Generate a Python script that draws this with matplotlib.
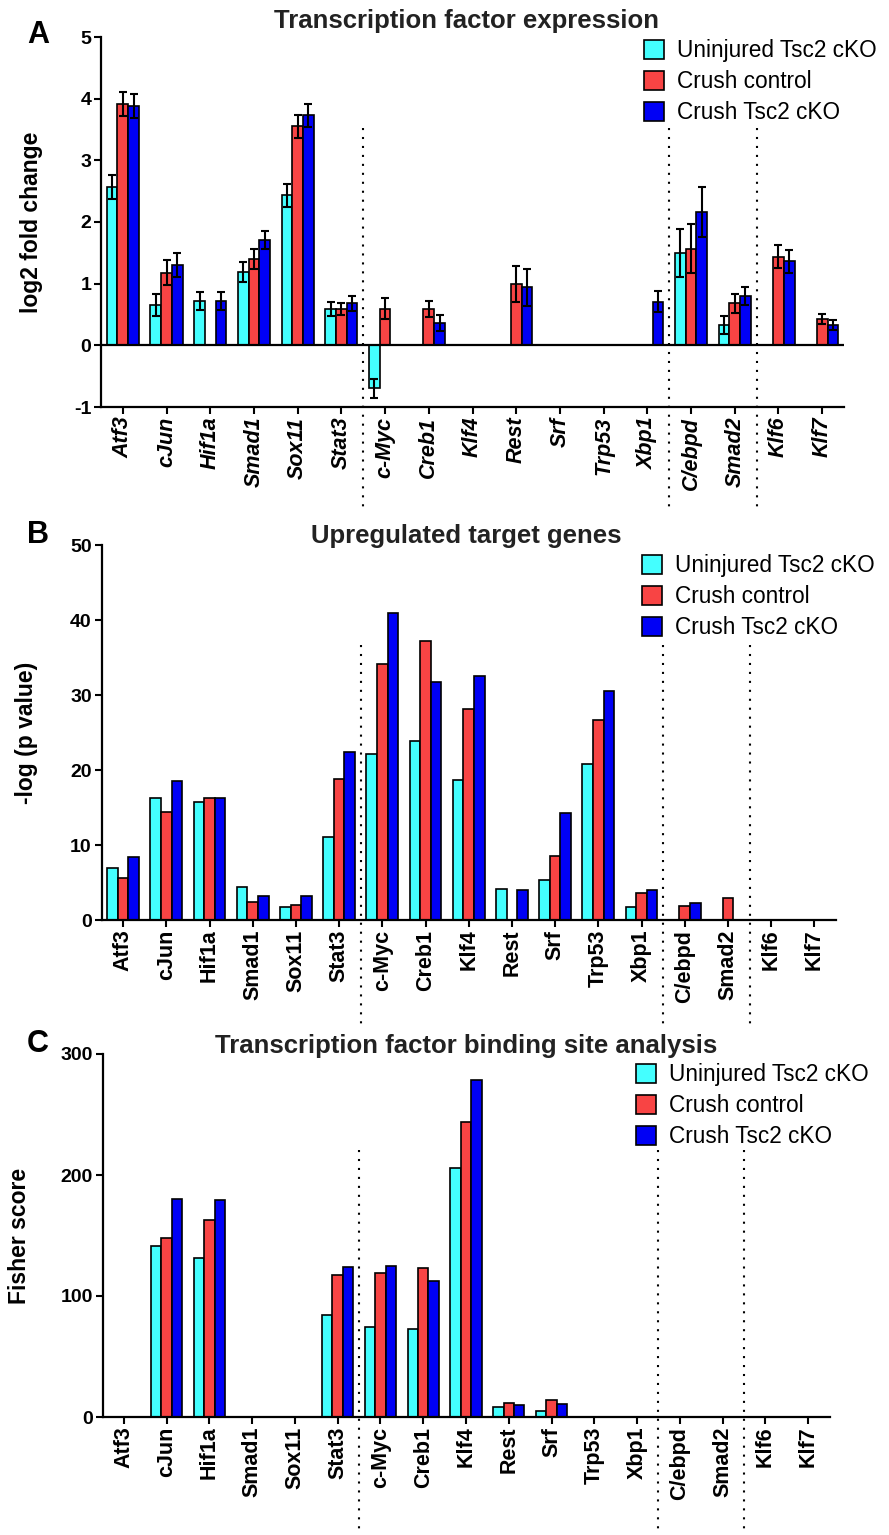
import numpy as np
import matplotlib
matplotlib.use('Agg')
import matplotlib.pyplot as plt
from matplotlib.transforms import blended_transform_factory
from matplotlib.patches import Patch

plt.rcParams['font.family'] = ['Liberation Sans', 'DejaVu Sans']
plt.rcParams['axes.unicode_minus'] = False

nan = np.nan
genes = ['Atf3', 'cJun', 'Hif1a', 'Smad1', 'Sox11', 'Stat3', 'c-Myc', 'Creb1', 'Klf4',
         'Rest', 'Srf', 'Trp53', 'Xbp1', 'C/ebpd', 'Smad2', 'Klf6', 'Klf7']
series = ['Uninjured Tsc2 cKO', 'Crush control', 'Crush Tsc2 cKO']
colors = ['#44FFFF', '#F84444', '#0000F5']
group_breaks = [5.5, 12.5, 14.5]

# Panel A: log2 fold change (mean, error)
fc_uninjured = [2.57, 0.65, 0.72, 1.19, 2.43, 0.59, -0.70, nan, nan, nan, nan, nan, nan, 1.50, 0.33, nan, nan]
fc_crush_ctrl = [3.91, 1.18, nan, 1.40, 3.55, 0.59, 0.59, 0.59, nan, 1.00, nan, nan, nan, 1.57, 0.68, 1.44, 0.43]
fc_crush_tsc2 = [3.88, 1.30, 0.72, 1.71, 3.73, 0.68, nan, 0.36, nan, 0.94, nan, nan, 0.71, 2.16, 0.80, 1.36, 0.33]
err_uninjured = [0.19, 0.18, 0.14, 0.16, 0.19, 0.11, 0.16, nan, nan, nan, nan, nan, nan, 0.39, 0.15, nan, nan]
err_crush_ctrl = [0.19, 0.20, nan, 0.16, 0.18, 0.10, 0.17, 0.13, nan, 0.29, nan, nan, nan, 0.40, 0.15, 0.19, 0.08]
err_crush_tsc2 = [0.19, 0.20, 0.14, 0.15, 0.19, 0.12, nan, 0.13, nan, 0.30, nan, nan, 0.17, 0.40, 0.15, 0.19, 0.08]

# Panel B: -log (p value)
p_uninjured = [6.9, 16.3, 15.8, 4.4, 1.7, 11.1, 22.2, 23.9, 18.7, 4.1, 5.4, 20.8, 1.8, nan, nan, nan, nan]
p_crush_ctrl = [5.6, 14.4, 16.3, 2.4, 2.0, 18.8, 34.2, 37.2, 28.2, nan, 8.5, 26.7, 3.6, 1.9, 3.0, nan, nan]
p_crush_tsc2 = [8.4, 18.5, 16.3, 3.2, 3.2, 22.4, 40.9, 31.8, 32.5, 4.0, 14.3, 30.5, 4.0, 2.3, nan, nan, nan]

# Panel C: Fisher score
f_uninjured = [nan, 141, 131, nan, nan, 84, 74, 73, 206, 8.3, 4.7, nan, nan, nan, nan, nan, nan]
f_crush_ctrl = [nan, 148, 162.5, nan, nan, 117, 119, 123, 244, 11.6, 14.3, nan, nan, nan, nan, nan, nan]
f_crush_tsc2 = [nan, 180, 179, nan, nan, 124, 125, 112, 278.5, 10.0, 10.5, nan, nan, nan, nan, nan, nan]

W, H = 889, 1535
fig = plt.figure(figsize=(W / 100, H / 100), dpi=100)


def add_axes(x0, x1, top, bottom):
    return fig.add_axes([x0 / W, 1 - bottom / H, (x1 - x0) / W, (bottom - top) / H])


def panel(ax, data, errs, ylim, yticks, ylabel, italic, title, title_y, letter, letter_y,
          ylabel_x, sep_top, sep_bot, leg_xy):
    x = np.arange(len(genes))
    bw = 0.245
    offs = [-bw, 0, bw]
    for k in range(3):
        vals = np.array(data[k], dtype=float)
        m = np.isfinite(vals)
        ax.bar(x[m] + offs[k], vals[m], width=bw, color=colors[k], edgecolor='black',
               linewidth=1.2, zorder=2)
        if errs is not None:
            e = np.array(errs[k], dtype=float)
            ax.errorbar(x[m] + offs[k], vals[m], yerr=e[m], fmt='none', ecolor='black',
                        elinewidth=1.5, capsize=2.8, capthick=1.5, zorder=3)
    ax.set_xlim(-0.5, len(genes) - 0.5)
    ax.set_ylim(*ylim)
    ax.set_yticks(yticks)
    ax.set_xticks(x)
    ax.set_xticklabels(genes, rotation=90, fontsize=15.5, fontweight='bold',
                       fontstyle='italic' if italic else 'normal')
    for lab in ax.get_yticklabels():
        lab.set_fontsize(14)
        lab.set_fontweight('bold')
    ax.tick_params(axis='both', direction='out', length=5, width=1.5, pad=2)
    for s in ['top', 'right']:
        ax.spines[s].set_visible(False)
    for s in ['left', 'bottom']:
        ax.spines[s].set_linewidth(1.6)
    if ylim[0] < 0:
        ax.axhline(0, color='black', linewidth=1.6, zorder=4)
    ax.set_ylabel(ylabel, fontsize=16.5, fontweight='bold')
    ax.yaxis.set_label_coords(ylabel_x, 0.5)
    tr = blended_transform_factory(ax.transData, ax.transAxes)
    for b in group_breaks:
        ax.plot([b, b], [sep_top, sep_bot], transform=tr, color='black', linewidth=1.5,
                linestyle=(0, (1, 3.3)), clip_on=False, zorder=1)
    fig.text(466 / W, 1 - title_y / H, title, ha='center', va='baseline', fontsize=18.5,
             fontweight='bold', color='#222222')
    fig.text(27 / W, 1 - letter_y / H, letter, ha='left', va='baseline', fontsize=22,
             fontweight='bold')
    handles = [Patch(facecolor=colors[k], edgecolor='black', linewidth=1.2) for k in range(3)]
    ax.legend(handles, series, loc='upper left', bbox_to_anchor=(leg_xy[0] / W, 1 - leg_xy[1] / H),
              bbox_transform=fig.transFigure, frameon=False, fontsize=16.3, borderpad=0,
              borderaxespad=0, handlelength=0.9, handleheight=0.9, handletextpad=0.55,
              labelspacing=0.36)


axA = add_axes(101, 844, 37, 407)
panel(axA, [fc_uninjured, fc_crush_ctrl, fc_crush_tsc2],
      [err_uninjured, err_crush_ctrl, err_crush_tsc2],
      (-1, 5), [-1, 0, 1, 2, 3, 4, 5], 'log2 fold change', True,
      'Transcription factor expression', 28, 'A', 43, -0.078, 0.754, -0.286, (644, 39))

axB = add_axes(101.5, 836, 545, 920)
panel(axB, [p_uninjured, p_crush_ctrl, p_crush_tsc2], None,
      (0, 50), [0, 10, 20, 30, 40, 50], '-log (p value)', False,
      'Upregulated target genes', 543, 'B', 543, -0.086, 0.733, -0.28, (642, 554))

axC = add_axes(102.5, 829.5, 1054, 1417)
panel(axC, [f_uninjured, f_crush_ctrl, f_crush_tsc2], None,
      (0, 300), [0, 100, 200, 300], 'Fisher score', False,
      'Transcription factor binding site analysis', 1053, 'C', 1052, -0.099, 0.736, -0.325,
      (636, 1063))

fig.savefig('out.png', dpi=100)
